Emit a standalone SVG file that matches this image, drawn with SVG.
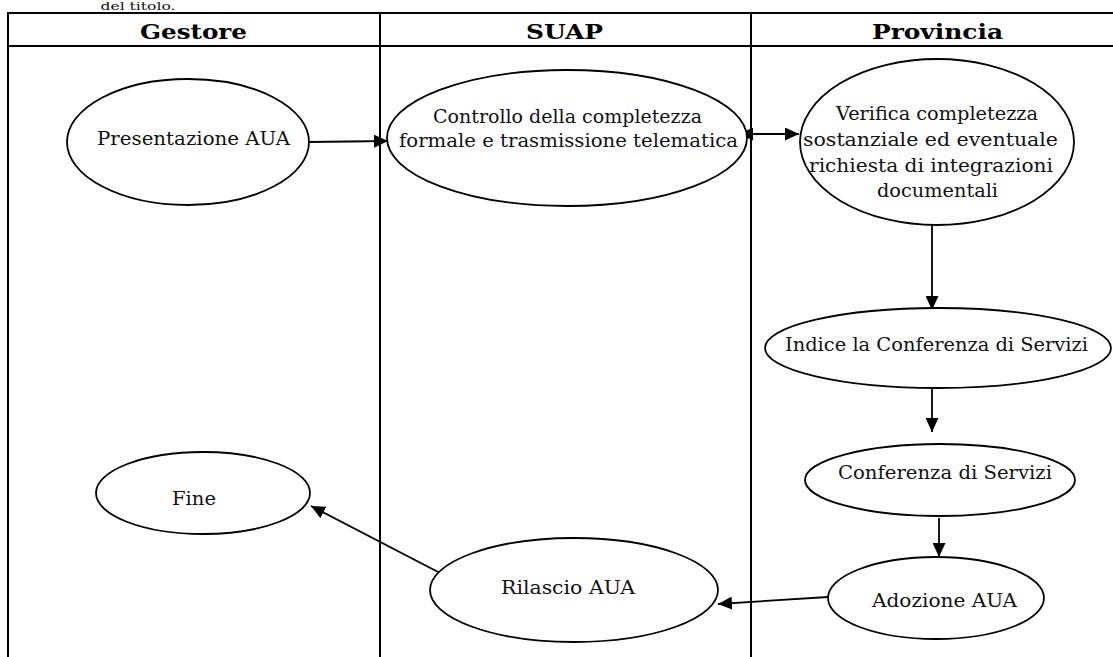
<svg xmlns="http://www.w3.org/2000/svg" width="1113" height="657" viewBox="0 0 1113 657">
<style>
.tbl{stroke:#000;stroke-width:2;fill:none}
.hdr{font-family:"DejaVu Serif","Liberation Serif",serif;font-weight:bold;font-size:21px;fill:#000;text-anchor:middle}
.lbl{font-family:"DejaVu Serif","Liberation Serif",serif;font-size:19px;fill:#111;text-anchor:middle}
.top{font-family:"DejaVu Serif","Liberation Serif",serif;font-size:11px;fill:#111;text-anchor:middle}
.node{fill:#fff;stroke:#000;stroke-width:1.8}
.conn{stroke:#000;stroke-width:1.8;fill:none}
</style>
<defs>
<marker id="ah" markerUnits="userSpaceOnUse" markerWidth="14" markerHeight="13" refX="14" refY="6.5" orient="auto-start-reverse" viewBox="0 0 14 13">
<path d="M0,0 L14,6.5 L0,13 z" fill="#000"/>
</marker>
</defs>
<rect width="1113" height="657" fill="#fff"/>
<text class="top" x="138" y="10" textLength="75" lengthAdjust="spacingAndGlyphs">del titolo.</text>
<g id="table">
<line class="tbl" x1="8" y1="13" x2="1113" y2="13"/>
<line class="tbl" x1="8" y1="46" x2="1113" y2="46"/>
<line class="tbl" x1="8" y1="12" x2="8" y2="657"/>
<line class="tbl" x1="380" y1="12" x2="380" y2="657"/>
<line class="tbl" x1="751" y1="12" x2="751" y2="657"/>
<text class="hdr" x="193.5" y="39" textLength="107" lengthAdjust="spacingAndGlyphs">Gestore</text>
<text class="hdr" x="564.5" y="39" textLength="77" lengthAdjust="spacingAndGlyphs">SUAP</text>
<text class="hdr" x="937.5" y="39" textLength="131" lengthAdjust="spacingAndGlyphs">Provincia</text>
</g>
<g id="connectors">
<line class="conn" x1="309" y1="142" x2="388" y2="141" marker-end="url(#ah)"/>
<line class="conn" x1="739" y1="134" x2="799" y2="134" marker-start="url(#ah)" marker-end="url(#ah)"/>
<line class="conn" x1="932" y1="225" x2="932" y2="310" marker-end="url(#ah)"/>
<line class="conn" x1="932" y1="388" x2="932" y2="432" marker-end="url(#ah)"/>
<line class="conn" x1="939" y1="518" x2="939" y2="557" marker-end="url(#ah)"/>
<line class="conn" x1="828" y1="597" x2="718" y2="604" marker-end="url(#ah)"/>
<line class="conn" x1="440" y1="573" x2="311" y2="506" marker-end="url(#ah)"/>
</g>
<g id="presentazione">
<ellipse class="node" cx="188" cy="142" rx="121" ry="63"/>
<text class="lbl" x="193.5" y="145" textLength="193" lengthAdjust="spacingAndGlyphs">Presentazione AUA</text>
</g>
<g id="controllo">
<ellipse class="node" cx="567" cy="138" rx="180" ry="68"/>
<text class="lbl" x="567.5" y="123" textLength="269" lengthAdjust="spacingAndGlyphs">Controllo della completezza</text>
<text class="lbl" x="568.5" y="147" textLength="339" lengthAdjust="spacingAndGlyphs">formale e trasmissione telematica</text>
</g>
<g id="verifica">
<ellipse class="node" cx="937" cy="142" rx="137" ry="83"/>
<text class="lbl" x="937" y="120" textLength="202" lengthAdjust="spacingAndGlyphs">Verifica completezza</text>
<text class="lbl" x="930.5" y="146" textLength="255" lengthAdjust="spacingAndGlyphs">sostanziale ed eventuale</text>
<text class="lbl" x="931" y="172" textLength="244" lengthAdjust="spacingAndGlyphs">richiesta di integrazioni</text>
<text class="lbl" x="937.5" y="197" textLength="121" lengthAdjust="spacingAndGlyphs">documentali</text>
</g>
<g id="indice">
<ellipse class="node" cx="938" cy="348" rx="173" ry="40"/>
<text class="lbl" x="936.5" y="351" textLength="303" lengthAdjust="spacingAndGlyphs">Indice la Conferenza di Servizi</text>
</g>
<g id="conferenza">
<ellipse class="node" cx="940" cy="480" rx="135" ry="36"/>
<text class="lbl" x="945" y="479" textLength="214" lengthAdjust="spacingAndGlyphs">Conferenza di Servizi</text>
</g>
<g id="adozione">
<ellipse class="node" cx="936" cy="598" rx="108" ry="41"/>
<text class="lbl" x="944.5" y="607" textLength="145" lengthAdjust="spacingAndGlyphs">Adozione AUA</text>
</g>
<g id="rilascio">
<ellipse class="node" cx="574" cy="590" rx="144" ry="52"/>
<text class="lbl" x="568" y="594" textLength="134" lengthAdjust="spacingAndGlyphs">Rilascio AUA</text>
</g>
<g id="fine">
<ellipse class="node" cx="203" cy="493" rx="107" ry="41"/>
<text class="lbl" x="194" y="505" textLength="44" lengthAdjust="spacingAndGlyphs">Fine</text>
</g>
</svg>
